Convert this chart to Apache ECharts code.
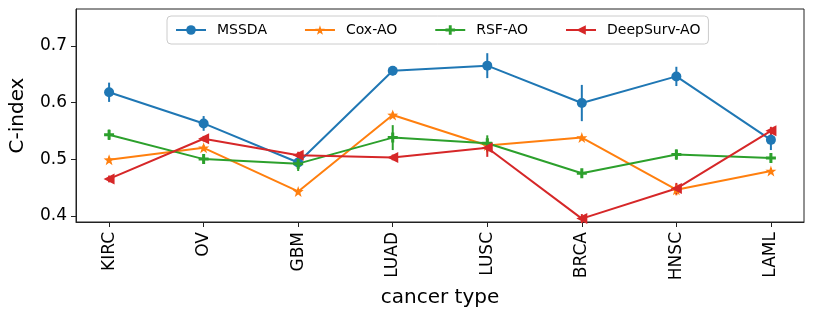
<!DOCTYPE html>
<html>
<head>
<meta charset="utf-8">
<script src="https://cdn.jsdelivr.net/npm/echarts@6/dist/echarts.min.js"></script>
<style>html,body{margin:0;padding:0;background:#fff;}#c{width:814px;height:319px;}</style>
</head>
<body>
<div id="c"></div>
<script>
const categories = ['KIRC','OV','GBM','LUAD','LUSC','BRCA','HNSC','LAML'];
const yTicks = [0.4, 0.5, 0.6, 0.7];
const mssda    = [0.618, 0.563, 0.494, 0.656, 0.665, 0.599, 0.646, 0.534];
const mssdaErr = [0.017, 0.013, 0.012, 0.008, 0.022, 0.032, 0.017, 0.018];
const cox      = [0.499, 0.520, 0.443, 0.578, 0.524, 0.538, 0.446, 0.479];
const coxErr   = [0.005, 0.005, 0.004, 0.005, 0.012, 0.004, 0.010, 0.005];
const rsf      = [0.543, 0.500, 0.492, 0.538, 0.528, 0.475, 0.508, 0.502];
const rsfErr   = [0.009, 0.006, 0.013, 0.022, 0.014, 0.006, 0.009, 0.006];
const deep     = [0.465, 0.536, 0.507, 0.503, 0.520, 0.395, 0.448, 0.550];
const deepErr  = [0.006, 0.005, 0.006, 0.005, 0.016, 0.008, 0.010, 0.007];

const FONT = 'DejaVu Sans';
const STAR = 'path://M0,-10 L2.35,-3.24 L9.51,-3.09 L3.8,1.24 L5.88,8.09 L0,4 L-5.88,8.09 L-3.8,1.24 L-9.51,-3.09 L-2.35,-3.24 Z';
const PLUS = 'path://M-3,-10 L3,-10 L3,-3 L10,-3 L10,3 L3,3 L3,10 L-3,10 L-3,3 L-10,3 L-10,-3 L-3,-3 Z';

const models = [
  {name:'MSSDA', vals:mssda, err:mssdaErr, color:'#1f77b4', symbol:'circle', size:10, rot:0},
  {name:'Cox-AO', vals:cox, err:coxErr, color:'#ff7f0e', symbol:STAR, size:11, rot:0},
  {name:'RSF-AO', vals:rsf, err:rsfErr, color:'#2ca02c', symbol:PLUS, size:10, rot:0},
  {name:'DeepSurv-AO', vals:deep, err:deepErr, color:'#d62728', symbol:'triangle', size:11, rot:90}
];

const series = [];
models.forEach(m => {
  series.push({
    name: m.name, type: 'line',
    data: m.vals.map((v,i) => [i, v]),
    color: m.color,
    lineStyle: {width: 2, color: m.color},
    itemStyle: {color: m.color},
    symbol: m.symbol, symbolSize: m.size, symbolRotate: m.rot,
    showAllSymbol: true, animation: false, z: 3
  });
  series.push({
    name: m.name, type: 'custom',
    data: m.vals.map((v,i) => [i, v, m.err[i]]),
    renderItem: function(params, api) {
      const x = api.value(0), y = api.value(1), e = api.value(2);
      const p1 = api.coord([x, y - e]);
      const p2 = api.coord([x, y + e]);
      return {type:'line', shape:{x1:p1[0], y1:p1[1], x2:p2[0], y2:p2[1]},
              style:{stroke:m.color, lineWidth:2}};
    },
    animation: false, z: 2, silent: true
  });
});

const chart = echarts.init(document.getElementById('c'), null, {renderer:'canvas'});
chart.setOption({
  backgroundColor: '#fff',
  animation: false,
  textStyle: {fontFamily: FONT},
  grid: {left: 73, right: 10, top: 9, bottom: 97, show: true, borderColor: '#222', borderWidth: 1, containLabel: false},
  legend: {
    data: models.map(m => m.name),
    left: 167, top: 16,
    padding: [7, 8],
    itemWidth: 30, itemHeight: 12, itemGap: 37,
    backgroundColor: 'rgba(255,255,255,0.8)',
    borderColor: '#cccccc', borderWidth: 1, borderRadius: 4,
    textStyle: {fontFamily: FONT, fontSize: 14, color: '#000', padding: [0,0,0,6]}
  },
  xAxis: {
    type: 'value', min: -0.35, max: 7.35,
    name: 'cancer type', nameLocation: 'middle', nameGap: 66,
    nameTextStyle: {fontFamily: FONT, fontSize: 20, color: '#000'},
    axisLine: {show: true, onZero: false, lineStyle: {color: '#222', width: 1}},
    axisTick: {show: true, length: 5, lineStyle: {color: '#222'}, customValues: categories.map((c,i) => i)},
    axisLabel: {rotate: 90, margin: 10, fontFamily: FONT, fontSize: 17, color: '#000',
      customValues: categories.map((c,i) => i),
      formatter: v => categories[Math.round(v)] || ''},
    splitLine: {show: false}
  },
  yAxis: {
    type: 'value', min: 0.389, max: 0.765,
    name: 'C-index', nameLocation: 'middle', nameGap: 48, nameRotate: 90,
    nameTextStyle: {fontFamily: FONT, fontSize: 20, color: '#000'},
    axisLine: {show: true, onZero: false, lineStyle: {color: '#222', width: 1}},
    axisTick: {show: true, length: 5, lineStyle: {color: '#222'}, customValues: yTicks},
    axisLabel: {margin: 9, fontFamily: FONT, fontSize: 17, color: '#000',
      customValues: yTicks, formatter: v => v.toFixed(1)},
    splitLine: {show: false}
  },
  series: series
});
</script>
</body>
</html>
